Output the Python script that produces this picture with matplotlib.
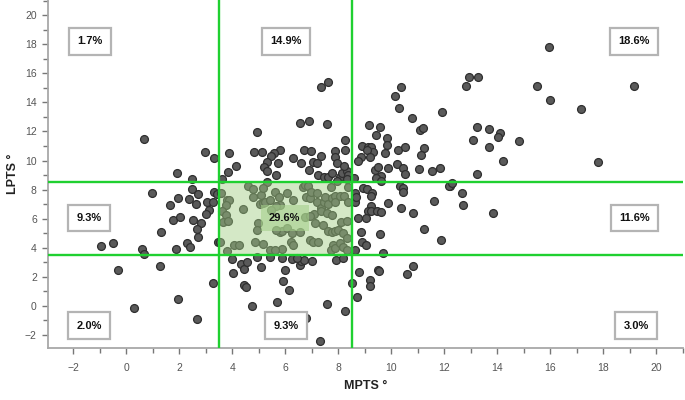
import matplotlib
matplotlib.use("Agg")
import matplotlib.pyplot as plt
from matplotlib.patches import Rectangle
from matplotlib.ticker import MultipleLocator

plt.rcParams['font.family'] = ['Liberation Sans', 'DejaVu Sans']

# --- data (MPTS, LPTS), grouped by quadrant ---
top_left = [(0.68, 11.5), (2.98, 10.6), (3.3, 10.2), (1.92, 9.14), (2.48, 8.73)]

mid_left = [(0.97, 7.75), (1.67, 6.96), (1.97, 7.42), (2.48, 8.04), (2.37, 7.35),
            (2.71, 7.72), (2.65, 7.03), (3.04, 7.15), (3.3, 7.81), (3.29, 7.13),
            (3.12, 6.62), (3.0, 6.32), (2.82, 5.73), (2.52, 5.91), (1.78, 5.89),
            (2.04, 6.14), (2.68, 5.31), (2.71, 4.76), (1.32, 5.11), (2.28, 4.31),
            (2.42, 4.06), (1.88, 3.92), (3.47, 4.40), (-0.94, 4.14), (-0.51, 4.31),
            (0.58, 3.88), (0.69, 3.55), (3.42, 7.7)]

bottom_left = [(-0.29, 2.5), (1.29, 2.77), (3.27, 1.58), (0.31, -0.16), (1.94, 0.48),
               (2.66, -0.89)]

top_mid = [(7.33, 15.03), (7.63, 15.42), (6.55, 12.58), (6.88, 12.69), (7.57, 12.49),
           (4.94, 11.96), (8.25, 11.43), (3.86, 10.49), (4.13, 9.6), (3.84, 9.21),
           (3.63, 8.73), (4.82, 10.6), (5.13, 10.6), (5.82, 10.74), (5.56, 10.52),
           (5.47, 10.29), (5.72, 9.85), (5.3, 9.92), (5.2, 9.57), (5.31, 9.3),
           (5.66, 9.0), (5.3, 8.54), (6.29, 10.19), (6.69, 10.72), (6.99, 10.63),
           (6.61, 9.8), (6.9, 9.35), (7.05, 9.87), (7.2, 9.8), (7.33, 10.29),
           (7.24, 9.0), (7.89, 10.68), (7.87, 10.22), (8.27, 10.74), (7.97, 9.8),
           (7.48, 8.89), (7.61, 8.89), (7.76, 9.16), (8.05, 8.89), (8.15, 9.12),
           (8.34, 9.3), (8.37, 9.0), (8.32, 8.71), (7.97, 8.6), (8.22, 9.6)]

center = [(3.56, 7.74), (3.79, 7.29), (3.89, 7.29), (3.76, 6.94), (3.63, 6.55),
          (3.76, 6.25), (3.64, 5.80), (3.83, 5.87), (3.55, 4.42), (3.79, 3.80),
          (4.08, 4.19), (4.25, 4.19), (4.42, 6.64), (4.58, 8.27), (4.79, 8.02),
          (4.80, 7.51), (5.08, 7.63), (5.06, 6.99), (5.17, 7.10), (5.24, 7.17),
          (5.42, 7.29), (5.63, 7.84), (5.78, 7.47), (5.81, 6.94), (6.07, 7.74),
          (5.67, 6.90), (5.46, 6.60), (4.96, 5.73), (4.94, 5.22), (4.86, 4.42),
          (5.17, 4.26), (5.42, 3.85), (5.87, 3.94), (5.80, 5.06), (5.86, 5.15),
          (6.06, 5.34), (6.24, 4.99), (6.21, 4.42), (6.30, 4.17), (6.55, 5.11),
          (6.66, 8.20), (6.75, 8.29), (6.87, 8.25), (6.77, 7.51), (6.94, 7.45),
          (6.99, 7.84), (7.18, 7.74), (7.18, 7.17), (7.36, 6.76), (7.46, 7.17),
          (7.50, 7.51), (7.61, 6.99), (7.74, 8.20), (7.78, 7.40), (7.89, 7.56),
          (7.88, 7.17), (8.08, 7.58), (8.23, 7.56), (8.38, 8.20), (8.38, 7.17),
          (7.10, 6.32), (7.33, 6.55), (7.59, 6.37), (7.77, 6.23), (6.75, 6.14),
          (6.92, 6.19), (7.11, 5.68), (7.44, 5.57), (7.63, 5.15), (7.78, 5.11),
          (7.87, 5.18), (7.98, 5.22), (8.10, 5.75), (8.34, 5.87), (8.18, 4.99),
          (8.34, 4.70), (6.95, 4.54), (7.06, 4.42), (7.24, 4.42), (7.80, 4.19),
          (7.74, 3.85), (7.89, 3.96), (8.08, 4.31), (8.18, 4.08), (8.34, 3.85),
          (5.65, 5.22), (5.60, 3.85), (5.17, 8.09), (6.30, 7.29)]

bottom_mid = [(4.0, 3.25), (4.34, 2.89), (4.44, 2.54), (4.03, 2.25), (5.1, 2.66),
              (4.92, 3.35), (5.41, 3.37), (5.98, 2.47), (5.91, 1.7), (6.13, 1.08),
              (4.45, 1.47), (4.52, 1.28), (4.75, 0.0), (5.68, 0.3), (6.56, 2.82),
              (6.59, 3.1), (7.01, 3.12), (6.25, 3.25), (7.57, 0.12), (8.24, -0.34),
              (6.8, -0.82), (7.31, -2.4), (7.93, 3.16), (8.17, 3.3), (4.57, 3.05),
              (5.86, 3.28), (6.72, 3.16), (6.45, 3.3)]

top_right = [(12.92, 15.76), (13.27, 15.76), (12.83, 15.12), (10.36, 15.05), (10.14, 14.43),
             (10.29, 13.65), (11.93, 13.31), (10.78, 12.94), (9.17, 12.46), (9.56, 12.3),
             (9.42, 11.73), (11.08, 12.07), (11.19, 12.23), (9.85, 11.55), (9.83, 11.09),
             (13.08, 11.41), (8.91, 10.98), (9.12, 10.91), (9.25, 10.95), (9.31, 10.6),
             (9.08, 10.72), (9.18, 10.26), (8.87, 10.26), (8.74, 9.94), (9.76, 10.52),
             (10.25, 10.72), (10.51, 10.93), (11.24, 10.84), (11.12, 10.36), (9.4, 9.35),
             (9.5, 9.53), (9.86, 9.48), (10.2, 9.76), (10.44, 9.46), (10.53, 9.09),
             (11.03, 9.42), (11.55, 9.3), (11.83, 9.48), (9.62, 8.93), (9.42, 8.78),
             (15.96, 17.82), (15.48, 15.1), (19.15, 15.1), (15.99, 14.16), (17.16, 13.56),
             (13.25, 12.3), (13.67, 12.16), (14.09, 11.87), (14.04, 11.64), (13.7, 10.95),
             (14.82, 11.32), (14.23, 9.94), (17.78, 9.92), (13.24, 9.07), (9.6, 8.6),
             (8.6, 8.8)]

mid_right = [(8.62, 7.17), (9.25, 6.9), (9.12, 6.53), (9.25, 6.53), (9.47, 6.53),
             (9.6, 6.44), (9.87, 7.06), (10.35, 6.71), (10.81, 6.37), (8.74, 6.07),
             (9.03, 6.03), (8.87, 5.09), (9.56, 4.95), (8.9, 4.38), (9.06, 4.21),
             (8.64, 3.83), (9.69, 3.62), (11.24, 5.27), (11.88, 4.51), (11.6, 7.24),
             (12.7, 6.94), (12.22, 8.25), (12.66, 7.77), (13.85, 6.41), (8.62, 7.74),
             (8.92, 8.13), (9.1, 8.04), (9.27, 7.74), (9.22, 7.56), (10.31, 8.25),
             (10.44, 8.13), (10.46, 7.86), (12.19, 8.27), (8.68, 7.5), (12.28, 8.45)]

bottom_right = [(8.52, 1.56), (8.78, 2.34), (9.5, 2.5), (9.52, 2.38), (9.2, 1.79),
                (9.18, 1.37), (8.72, 0.64), (10.59, 2.22), (10.83, 2.73)]

# quadrant percentages and where their boxes sit
pct_labels = ['1.7%', '14.9%', '18.6%', '9.3%', '29.6%', '11.6%', '2.0%', '9.3%', '3.0%']
pct_x = [-1.37, 6.02, 19.16, -1.39, 5.98, 19.16, -1.39, 6.02, 19.23]
pct_y = [18.2, 18.2, 18.2, 6.05, 6.05, 6.05, -1.37, -1.37, -1.37]

cut_lo, cut_hi = 3.5, 8.5

all_pts = (top_left + mid_left + bottom_left + top_mid + center + bottom_mid
           + top_right + mid_right + bottom_right)
mpts = [p[0] for p in all_pts]
lpts = [p[1] for p in all_pts]

fig = plt.figure(figsize=(6.85, 4.0), dpi=100)
ax = fig.add_axes([0.070, 0.13, 0.927, 0.87])

ax.scatter(mpts, lpts, s=32, c='#5a5a5a', edgecolors='#2e2e2e', linewidths=0.9, zorder=2)

# shaded normal zone
ax.add_patch(Rectangle((cut_lo, cut_lo), cut_hi - cut_lo, cut_hi - cut_lo,
                       facecolor='#a0cd82', alpha=0.45, edgecolor='none', zorder=3))

for v in (cut_lo, cut_hi):
    ax.axvline(v, color='#1fd030', lw=1.7, zorder=4)
    ax.axhline(v, color='#1fd030', lw=1.7, zorder=4)

for i, (lab, x, y) in enumerate(zip(pct_labels, pct_x, pct_y)):
    if i == 4:
        # centre label sits on a darker green patch, no frame
        box = dict(boxstyle='square,pad=0.75', facecolor='#a6d08c', alpha=0.6, edgecolor='none')
    else:
        box = dict(boxstyle='square,pad=0.75', facecolor='white', edgecolor='#b4b4b4', lw=1.6)
    ax.text(x, y, lab, ha='center', va='center', fontsize=8, fontweight='bold',
            color='#111111', bbox=box, zorder=5)

ax.set_xlim(-2.95, 21.0)
ax.set_ylim(-2.9, 21.05)
ax.xaxis.set_major_locator(MultipleLocator(2))
ax.xaxis.set_minor_locator(MultipleLocator(1))
ax.yaxis.set_major_locator(MultipleLocator(2))
ax.yaxis.set_minor_locator(MultipleLocator(1))

for side in ('top', 'right'):
    ax.spines[side].set_visible(False)
for side in ('left', 'bottom'):
    ax.spines[side].set_color('#a8a8a8')
    ax.spines[side].set_linewidth(1.3)

ax.tick_params(which='both', direction='out', color='#777777', width=1.0,
               labelsize=7.5, labelcolor='#555555')
ax.tick_params(which='major', length=4, pad=7)
ax.tick_params(which='minor', length=3.5)
ax.tick_params(axis='y', which='major', pad=4)

ax.set_xlabel('MPTS °', fontsize=9, fontweight='bold', color='#222222', labelpad=5)
ax.set_ylabel('LPTS °', fontsize=9, fontweight='bold', color='#222222', labelpad=4)

fig.savefig('out.png', dpi=100)
